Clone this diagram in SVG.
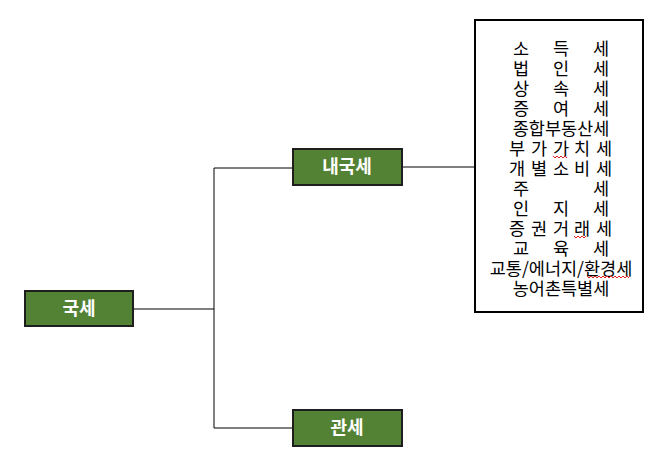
<svg xmlns="http://www.w3.org/2000/svg" width="671" height="472" viewBox="0 0 671 472">
<style>
.n{fill:#548235;stroke:#1e1e1e;stroke-width:2}
.nt{font-family:"Noto Sans CJK KR","Noto Sans",sans-serif;font-size:18px;font-weight:bold;fill:#fff;text-anchor:middle}
.t{font-family:"Noto Sans CJK KR","Liberation Sans",sans-serif;font-size:17.5px;fill:#000;text-anchor:middle}
.c{stroke:#000;stroke-width:1;fill:none}
.sq{stroke:#e02020;stroke-width:1;fill:none}
</style>
<rect width="671" height="472" fill="#fff"/>
<g id="connectors">
<path class="c" d="M133,309H214M214,168V428M214,168H293M214,428H293M402,167H475"/>
</g>
<g id="n-gukse"><rect class="n" x="25" y="291" width="108" height="35"/><text class="nt" x="79" y="315">국세</text></g>
<g id="n-naegukse"><rect class="n" x="293" y="149" width="109" height="36"/><text class="nt" x="347" y="173">내국세</text></g>
<g id="n-gwanse"><rect class="n" x="293" y="410" width="109" height="36"/><text class="nt" x="347" y="434">관세</text></g>
<g id="n-list">
<rect x="475" y="20" width="168" height="292" fill="#fff" stroke="#000" stroke-width="2"/>
<g class="t" transform="translate(0,1.5)">
<text x="521" y="53">소</text><text x="561" y="53">득</text><text x="601" y="53">세</text>
<text x="521" y="73">법</text><text x="561" y="73">인</text><text x="601" y="73">세</text>
<text x="521" y="93">상</text><text x="561" y="93">속</text><text x="601" y="93">세</text>
<text x="521" y="113">증</text><text x="561" y="113">여</text><text x="601" y="113">세</text>
<text x="561" y="133">종합부동산세</text>
<text x="517" y="153">부</text><text x="539" y="153">가</text><text x="561" y="153">가</text><text x="582" y="153">치</text><text x="604" y="153">세</text>
<text x="517" y="173">개</text><text x="539" y="173">별</text><text x="561" y="173">소</text><text x="582" y="173">비</text><text x="604" y="173">세</text>
<text x="521" y="193">주</text><text x="601" y="193">세</text>
<text x="521" y="213">인</text><text x="561" y="213">지</text><text x="601" y="213">세</text>
<text x="517" y="233">증</text><text x="539" y="233">권</text><text x="561" y="233">거</text><text x="582" y="233">래</text><text x="604" y="233">세</text>
<text x="521" y="253">교</text><text x="561" y="253">육</text><text x="601" y="253">세</text>
<text x="561" y="273">교통/에너지/환경세</text>
<text x="561" y="293">농어촌특별세</text>
</g>
<path class="sq" d="M553,156l2,2l2,-2l2,2l2,-2l2,2l2,-2l2,2M574,236l2,2l2,-2l2,2l2,-2l2,2l2,-2M587,276l2,2l2,-2l2,2l2,-2l2,2l2,-2l2,2l2,-2l2,2l2,-2l2,2l2,-2l2,2l2,-2l2,2l2,-2l2,2l2,-2l2,2l2,-2l2,2"/>
</g>
</svg>
